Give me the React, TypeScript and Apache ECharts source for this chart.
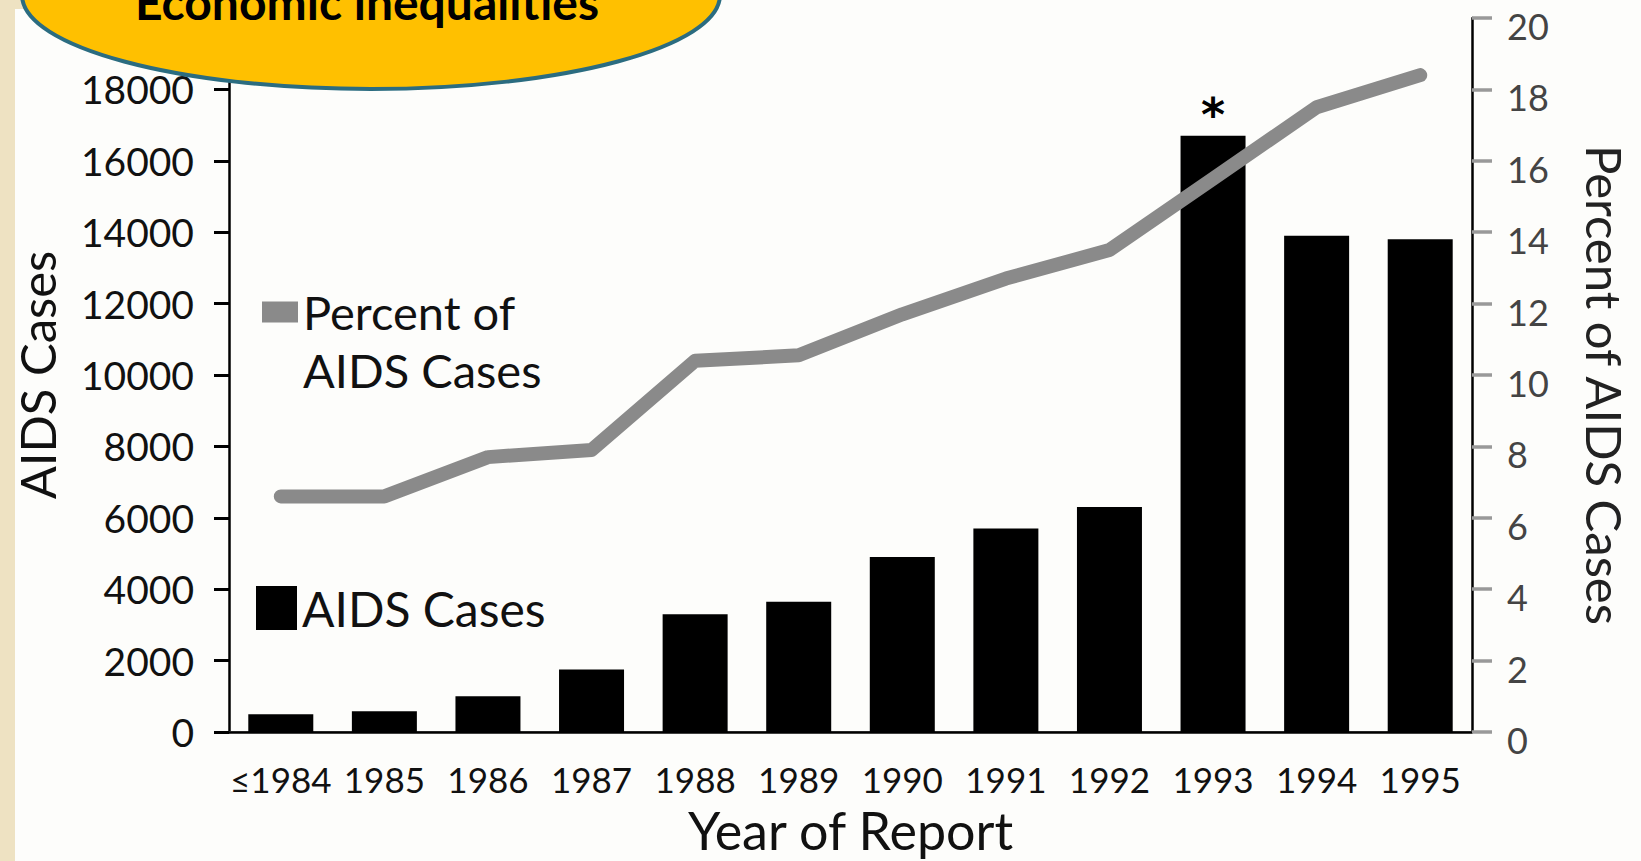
import React, { useEffect, useRef } from "react";
import * as echarts from "echarts";

const years = ["≤1984", "1985", "1986", "1987", "1988", "1989", "1990", "1991", "1992", "1993", "1994", "1995"];
const aidsCases = [500, 580, 1000, 1750, 3300, 3650, 4900, 5700, 6300, 16700, 13900, 13800];
const percentOfCases = [6.6, 6.6, 7.7, 7.9, 10.4, 10.55, 11.7, 12.7, 13.5, 15.5, 17.5, 18.4];
const markedYear = "1993";
const barName = "AIDS Cases";
const lineName = "Percent of\nAIDS Cases";
const titleText = "Economic inequalities";
const xName = "Year of Report";
const leftName = "AIDS Cases";
const rightName = "Percent of AIDS Cases";

export default function App() {
  const ref = useRef<HTMLDivElement>(null);
  useEffect(() => {
    if (!ref.current) return;
    const chart = echarts.init(ref.current, undefined, { renderer: "svg" });
    const font = "Lato";
    chart.setOption({
      animation: false,
      backgroundColor: "#FDFDFB",
      textStyle: { fontFamily: font },
      grid: { left: 229, right: 169, top: 18, bottom: 125, containLabel: false },
      legend: [
        {
          data: [{ name: lineName, icon: "rect" }],
          left: 262,
          top: 225,
          padding: 0,
          selectedMode: false,
          itemWidth: 36,
          itemHeight: 21,
          formatter: (name: string) => "\n" + name,
          textStyle: { fontSize: 47, lineHeight: 58, color: "#111", fontFamily: font },
        },
        {
          data: [{ name: barName, icon: "rect" }],
          left: 256,
          top: 584,
          padding: 0,
          selectedMode: false,
          itemWidth: 41,
          itemHeight: 44,
          textStyle: { fontSize: 48, color: "#111", fontFamily: font },
        },
      ],
      xAxis: [
        {
          type: "category",
          data: years,
          position: "bottom",
          axisLine: { lineStyle: { color: "#8c8c8c", width: 2 } },
          axisTick: { show: false },
          axisLabel: { interval: 0, fontSize: 35, color: "#111", margin: 29, fontFamily: font },
          name: xName,
          nameLocation: "middle",
          nameGap: 72,
          nameTextStyle: { fontSize: 52, color: "#111", fontFamily: font },
        },
        {
          type: "category",
          data: years,
          position: "top",
          axisLine: { lineStyle: { color: "#000", width: 2.5 } },
          axisTick: { show: false },
          axisLabel: { show: false },
        },
      ],
      yAxis: [
        {
          type: "value",
          min: 0,
          max: 20000,
          interval: 2000,
          position: "left",
          splitLine: { show: false },
          axisLine: { show: true, lineStyle: { color: "#000", width: 2.5 } },
          axisTick: { show: true, length: 15, lineStyle: { color: "#000", width: 3 } },
          axisLabel: {
            fontSize: 39,
            color: "#111",
            margin: 35,
            fontFamily: font,
            formatter: (v: number) => (v >= 20000 ? "" : String(v)),
          },
          name: leftName,
          nameLocation: "middle",
          nameGap: 168,
          nameTextStyle: { fontSize: 49, color: "#111", fontFamily: font },
        },
        {
          type: "value",
          min: 0,
          max: 20,
          interval: 2,
          position: "right",
          splitLine: { show: false },
          axisLine: { show: true, lineStyle: { color: "#000", width: 2.5 } },
          axisTick: { show: true, length: 20, lineStyle: { color: "#999", width: 3.5 } },
          axisLabel: {
            fontSize: 36,
            color: "#444",
            margin: 35,
            fontFamily: font,
            verticalAlign: "top",
            lineHeight: 16,
          },
          name: rightName,
          nameLocation: "middle",
          nameRotate: -90,
          nameGap: 108,
          nameTextStyle: { fontSize: 49, color: "#222", fontFamily: font, padding: [0, 0, 0, 20] },
        },
      ],
      series: [
        {
          name: barName,
          type: "bar",
          data: aidsCases,
          barWidth: 65,
          itemStyle: { color: "#000" },
          label: {
            show: true,
            position: "top",
            distance: -2,
            fontSize: 46,
            fontWeight: "bold",
            fontFamily: "DejaVu Sans",
            color: "#000",
            formatter: (p: any) => (p.name === markedYear ? "*" : ""),
          },
          z: 2,
        },
        {
          name: lineName,
          type: "line",
          yAxisIndex: 1,
          data: percentOfCases,
          symbol: "none",
          itemStyle: { color: "#8a8a8a" },
          lineStyle: { color: "#8a8a8a", width: 14, cap: "round", join: "round" },
          z: 3,
        },
      ],
      graphic: [
        { type: "rect", shape: { x: 0, y: 0, width: 15, height: 861 }, style: { fill: "#EEE2C2" }, z: 1 },
        { type: "rect", shape: { x: 0, y: 0, width: 300, height: 9 }, style: { fill: "#EEE2C2" }, z: 1 },
        {
          type: "ellipse",
          shape: { cx: 371, cy: -5, rx: 349, ry: 94 },
          style: { fill: "#FFC000", stroke: "#2B6C80", lineWidth: 4 },
          z: 100,
        },
        {
          type: "text",
          x: 367,
          y: 25,
          style: {
            text: titleText,
            fontSize: 48,
            fontWeight: "bold",
            fontFamily: font,
            fill: "#000",
            align: "center",
            verticalAlign: "bottom",
          },
          z: 101,
        },
      ],
    });
    return () => chart.dispose();
  }, []);
  return <div ref={ref} style={{ position: "fixed", left: 0, top: 0, width: 1641, height: 861 }} />;
}
